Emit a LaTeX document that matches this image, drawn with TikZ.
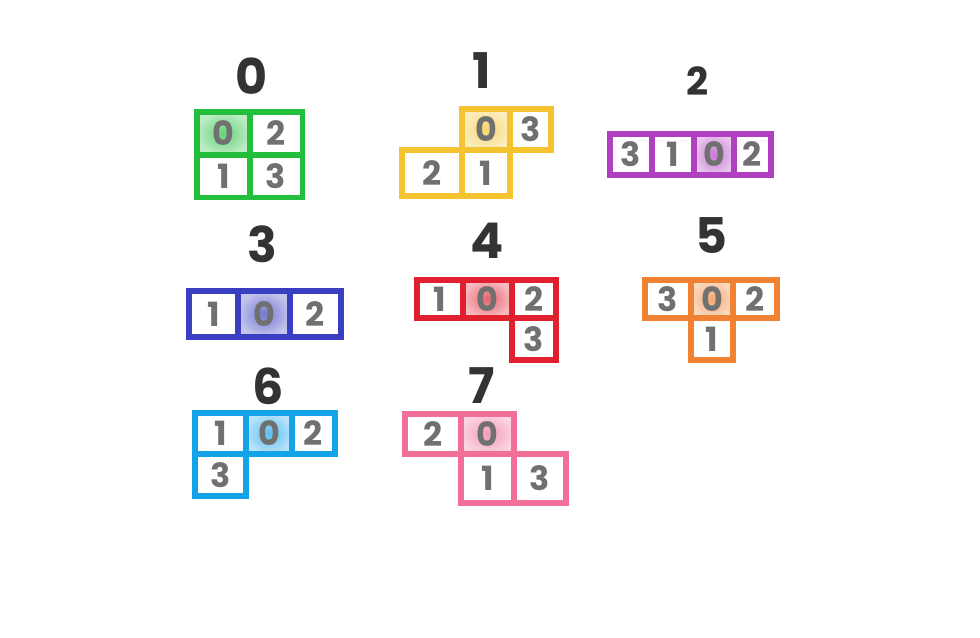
\documentclass[tikz,border=0pt]{standalone}
\usepackage{fontspec}
\setmainfont{Poppins}
\definecolor{digitgray}{HTML}{707070}
\definecolor{titlegray}{HTML}{333333}
\definecolor{cgreen}{HTML}{22BE3C}
\definecolor{cyellow}{HTML}{F4C430}
\definecolor{cpurple}{HTML}{B040C0}
\definecolor{cblue}{HTML}{3A3EC0}
\definecolor{cred}{HTML}{E0202E}
\definecolor{corange}{HTML}{F08232}
\definecolor{ccyan}{HTML}{14A2E8}
\definecolor{cpink}{HTML}{F27098}
\tikzset{
  cell/.style={draw=#1, line width=3.2pt, inner sep=0pt,
    font=\fontsize{19}{19}\selectfont\bfseries, text=digitgray},
  zero/.style={cell=#1, inner color=#1!70, outer color=#1!30},
  wh/.style 2 args={minimum width=#1*0.02cm, minimum height=#2*0.02cm},
  title/.style={font=\fontsize{28}{28}\selectfont\bfseries, text=titlegray},
}
\begin{document}
\begin{tikzpicture}[x=0.02cm, y=-0.02cm]
	\useasboundingbox (0,0) rectangle (980,637);
	% piece 0
	\node[title] (t0) at (252,76) {0};
	\node[zero=cgreen, wh={53}{43}] (a0) at (223.5,133.5) {0};
	\node[cell=cgreen, wh={53}{43}] (a2) at (276,133.5) {2};
	\node[cell=cgreen, wh={53}{43}] (a1) at (223.5,176) {1};
	\node[cell=cgreen, wh={53}{43}] (a3) at (276,176) {3};
	% piece 1
	\node[title] (t1) at (482,71) {1};
	\node[zero=cyellow, wh={48}{41}] (b0) at (486,129.5) {0};
	\node[cell=cyellow, wh={41}{41}] (b3) at (530.5,129.5) {3};
	\node[cell=cyellow, wh={60}{46}] (b2) at (432,173) {2};
	\node[cell=cyellow, wh={48}{46}] (b1) at (486,173) {1};
	% piece 2
	\node[title, font=\fontsize{22}{22}\selectfont\bfseries] (t2) at (698,81) {2};
	\node[cell=cpurple, wh={42}{41}] (c3) at (631,154.5) {3};
	\node[cell=cpurple, wh={42}{41}] (c1) at (673,154.5) {1};
	\node[zero=cpurple, wh={40}{41}] (c0) at (714,154.5) {0};
	\node[cell=cpurple, wh={37}{41}] (c2) at (752.5,154.5) {2};
	% piece 3
	\node[title] (t3) at (262,244) {3};
	\node[cell=cblue, wh={49}{46}] (d1) at (213.5,314) {1};
	\node[zero=cblue, wh={52}{46}] (d0) at (264,314) {0};
	\node[cell=cblue, wh={51}{46}] (d2) at (315.5,314) {2};
	% piece 4
	\node[title] (t4) at (487,241) {4};
	\node[cell=cred, wh={46}{38}] (e1) at (440,299) {1};
	\node[zero=cred, wh={49}{38}] (e0) at (487.5,299) {0};
	\node[cell=cred, wh={44}{38}] (e2) at (534,299) {2};
	\node[cell=cred, wh={44}{42}] (e3) at (534,339) {3};
	% piece 5
	\node[title] (t5) at (711,236) {5};
	\node[cell=corange, wh={46}{38}] (f3) at (668,299) {3};
	\node[zero=corange, wh={42}{38}] (f0) at (712,299) {0};
	\node[cell=corange, wh={44}{38}] (f2) at (755,299) {2};
	\node[cell=corange, wh={42}{42}] (f1) at (712,339) {1};
	% piece 6
	\node[title] (t6) at (268,386) {6};
	\node[cell=ccyan, wh={51}{41}] (g1) at (220.5,433.5) {1};
	\node[zero=ccyan, wh={46}{41}] (g0) at (269,433.5) {0};
	\node[cell=ccyan, wh={43}{41}] (g2) at (313.5,433.5) {2};
	\node[cell=ccyan, wh={51}{42}] (g3) at (220.5,475) {3};
	% piece 7
	\node[title] (t7) at (482,386) {7};
	\node[cell=cpink, wh={56}{40}] (h2) at (433,434) {2};
	\node[zero=cpink, wh={53}{40}] (h0) at (487.5,434) {0};
	\node[cell=cpink, wh={53}{49}] (h1) at (487.5,478.5) {1};
	\node[cell=cpink, wh={52}{49}] (h3) at (540,478.5) {3};
\end{tikzpicture}
\end{document}
